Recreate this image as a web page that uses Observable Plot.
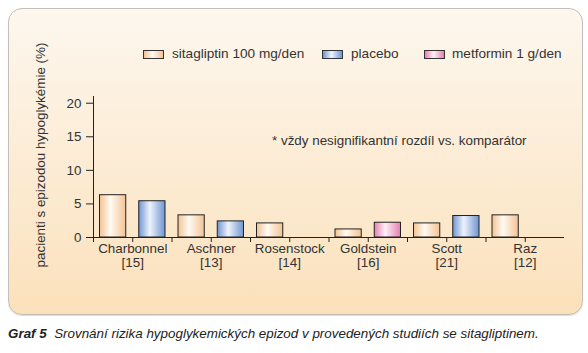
<!DOCTYPE html>
<html>
<head>
<meta charset="utf-8">
<script src="https://cdn.jsdelivr.net/npm/d3@7"></script>
<script src="https://cdn.jsdelivr.net/npm/@observablehq/plot@0.6"></script>
<style>
  html, body { margin: 0; padding: 0; background: #fff; }
  body { width: 588px; height: 353px; overflow: hidden; font-family: "Liberation Sans", Arial, sans-serif; color: #333; }
  #wrap { position: relative; width: 588px; height: 353px; }
  #panel { position: absolute; left: 8px; top: 8px; width: 573px; height: 305px; border: 1px solid #c4beb8; border-radius: 14px;
           background: linear-gradient(to bottom, #fdf7ee 0%, #fcecd5 50%, #fbe1bb 100%); box-shadow: 0 1px 1px rgba(0,0,0,0.15); }
  #chart { position: absolute; left: 0; top: 0; }
  .leg { position: absolute; font-size: 13.6px; line-height: 16px; white-space: nowrap; color: #333; }
  .sw { position: absolute; width: 19px; height: 7px; border: 1px solid #333; }
  #ylab { position: absolute; font-size: 13.4px; white-space: nowrap; color: #333; left: 40px; top: 155px; transform: translate(-50%, -50%) rotate(-90deg); }
  #note { position: absolute; left: 272px; top: 133px; font-size: 13.4px; white-space: nowrap; color: #333; }
  #caption { position: absolute; left: 8px; top: 326px; font-size: 13.4px; font-style: italic; white-space: nowrap; color: #222; }
  #caption b { font-weight: bold; }
</style>
</head>
<body>
<div id="wrap">
  <div id="panel"></div>
  <div id="chart"></div>
  <div id="legend"></div>
  <div id="ylab">pacienti s epizodou hypoglykémie (%)</div>
  <div id="note">* vždy nesignifikantní rozdíl vs. komparátor</div>
  <div id="caption"><b>Graf 5</b>&nbsp; Srovnání rizika hypoglykemických epizod v provedených studiích se sitagliptinem.</div>
</div>
<script>
// ---- data ----
const studies = ["Charbonnel", "Aschner", "Rosenstock", "Goldstein", "Scott", "Raz"];
const refs = ["[15]", "[13]", "[14]", "[16]", "[21]", "[12]"];
const sitagliptin = [6.3, 3.3, 2.1, 1.2, 2.1, 3.3];
const placebo = [5.4, 2.4, null, null, 3.2, null];
const metformin = [null, null, null, 2.2, null, null];
const seriesNames = ["sitagliptin 100 mg/den", "placebo", "metformin 1 g/den"];
const yTicks = [0, 5, 10, 15, 20];

// gradient colours per series (edge, centre)
const seriesColors = {
  sita: ["#f3c393", "#fffaf2"],
  plac: ["#6f95d2", "#eef3fb"],
  metf: ["#e57fb2", "#fdf0f6"]
};

// build rows: slot index 2*g for sitagliptin, 2*g+1 for comparator
const rows = [];
studies.forEach((s, g) => {
  rows.push({slot: 2 * g, value: sitagliptin[g], key: "sita"});
  if (placebo[g] != null) rows.push({slot: 2 * g + 1, value: placebo[g], key: "plac"});
  if (metformin[g] != null) rows.push({slot: 2 * g + 1, value: metformin[g], key: "metf"});
});
const nSlots = studies.length * 2;
const labels = studies.map((s, g) => ({pos: 2 * g + 1, name: s, ref: refs[g]}));

const defsMark = () => {
  const g = d3.create("svg:g");
  const defs = g.append("defs");
  for (const [k, [edge, mid]] of Object.entries(seriesColors)) {
    const lg = defs.append("linearGradient").attr("id", "g-" + k).attr("x1", 0).attr("x2", 1).attr("y1", 0).attr("y2", 0);
    lg.append("stop").attr("offset", "0%").attr("stop-color", edge);
    lg.append("stop").attr("offset", "42%").attr("stop-color", mid);
    lg.append("stop").attr("offset", "100%").attr("stop-color", edge);
  }
  return g.node();
};

const chart = Plot.plot({
  width: 588,
  height: 300,
  marginLeft: 93,
  marginRight: 24,
  marginTop: 96,
  marginBottom: 63,
  style: {background: "transparent", fontFamily: "Liberation Sans, Arial, sans-serif", fontSize: "13.4px", color: "#333"},
  x: {type: "linear", domain: [0, nSlots], axis: null},
  y: {domain: [0, 21], axis: null},
  marks: [
    defsMark,
    Plot.axisY({ticks: yTicks, tickSize: 7, tickPadding: 5, label: null, fontSize: 13.4, stroke: "#222", color: "#333"}),
    Plot.axisX({ticks: d3.range(0, nSlots), tickSize: 5, tickFormat: () => "", label: null, stroke: "#222"}),
    Plot.ruleX([0], {y1: 0, y2: 21, stroke: "#222"}),
    Plot.ruleY([0], {x1: 0, x2: nSlots, stroke: "#222"}),
    Plot.rectY(rows, {
      x1: "slot", x2: d => d.slot + 1, y1: 0, y2: "value",
      insetLeft: 6.5, insetRight: 6.5,
      fill: d => `url(#g-${d.key})`, stroke: "#222", strokeWidth: 1
    }),
    Plot.text(labels, {x: "pos", y: 0, text: "name", dy: 6, lineAnchor: "top", fontSize: 13.4, fill: "#333"}),
    Plot.text(labels, {x: "pos", y: 0, text: "ref", dy: 20, lineAnchor: "top", fontSize: 13.4, fill: "#333"})
  ]
});
document.getElementById("chart").appendChild(chart);

// legend
const legend = document.getElementById("legend");
const legPos = [
  {key: "sita", sw: 143, tx: 172},
  {key: "plac", sw: 322, tx: 351},
  {key: "metf", sw: 424, tx: 452}
];
legPos.forEach((p, i) => {
  const [edge, mid] = seriesColors[p.key];
  const sw = document.createElement("div");
  sw.className = "sw";
  sw.style.left = p.sw + "px";
  sw.style.top = "50px";
  sw.style.background = `linear-gradient(to right, ${edge} 0%, ${mid} 45%, ${edge} 100%)`;
  legend.appendChild(sw);
  const t = document.createElement("div");
  t.className = "leg";
  t.style.left = p.tx + "px";
  t.style.top = "46px";
  t.textContent = seriesNames[i];
  legend.appendChild(t);
});
</script>
</body>
</html>
